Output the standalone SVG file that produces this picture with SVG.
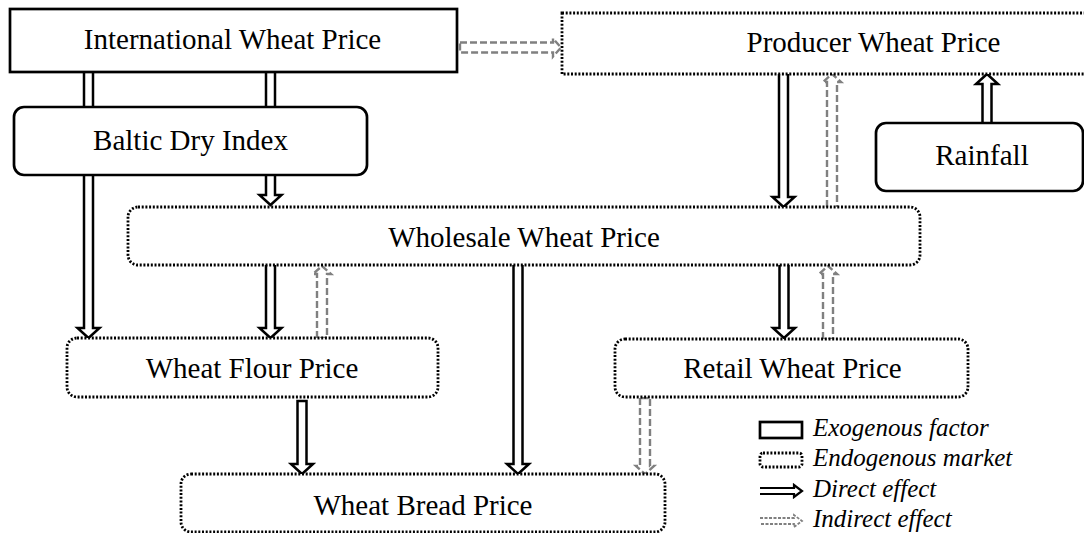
<svg xmlns="http://www.w3.org/2000/svg" width="1084" height="533" viewBox="0 0 1084 533">
<defs>
<style>
.t{font-family:"Liberation Serif","Times New Roman","DejaVu Serif",serif;font-size:29px;fill:#000;text-anchor:middle}
.lg{font-family:"Liberation Serif","Times New Roman","DejaVu Serif",serif;font-size:25px;font-style:italic;fill:#000}
.exo{fill:#fff;stroke:#000;stroke-width:2.7}
.endo{fill:#fff;stroke:#000;stroke-width:2.8;stroke-dasharray:2 1.7}
.dir{fill:#fff;stroke:#000;stroke-width:2.5;stroke-linejoin:miter}
.ind{fill:none;stroke:#808080;stroke-width:2.4;stroke-dasharray:7 3}
</style>
</defs>
<rect width="1084" height="533" fill="#fff"/>
<g id="connectors">
<path class="dir" d="M84,72 V328 H77.5 L88.5,338 L99.5,328 H93 V72"/>
<path class="dir" d="M266,72 V195 H259.5 L270.5,205 L281.5,195 H275 V72"/>
<path class="dir" d="M779,74 V197 H772.5 L783.5,207 L794.5,197 H788 V74"/>
<path class="dir" d="M982.5,123 V84 H976 L987,74 L998,84 H991.5 V123"/>
<path class="dir" d="M266,265 V328 H259.5 L270.5,338 L281.5,328 H275 V265"/>
<path class="dir" d="M513.5,265 V464 H507 L518,474 L529,464 H522.5 V265"/>
<path class="dir" d="M779.5,265 V328 H773 L784,338 L795,328 H788.5 V265"/>
<path class="dir" d="M297.5,401 V464 H291 L302,474 L313,464 H306.5 V401 Z"/>
<path class="ind" d="M460,42.5 H553 V38.5 L561,47.5 L553,56.5 V52.5 H460 Z"/>
<path class="ind" d="M827,207 V82 H823 L832,74 L841,82 H837 V207"/>
<path class="ind" d="M317,338 V274 H313 L322,266 L331,274 H327 V338 Z"/>
<path class="ind" d="M823,339 V274 H819 L828,266 L837,274 H833 V339 Z"/>
<path class="ind" d="M640,398 V466 H636 L645,474 L654,466 H650 V398 Z"/>
</g>
<g id="international">
<rect class="exo" x="10" y="9" width="447" height="63"/>
<text class="t" x="232.5" y="49">International Wheat Price</text>
</g>
<g id="producer">
<rect class="endo" x="562" y="13" width="530" height="61"/>
<text class="t" x="873.5" y="52">Producer Wheat Price</text>
</g>
<g id="baltic">
<rect class="exo" x="14" y="107" width="353" height="68" rx="10"/>
<text class="t" x="190.5" y="150">Baltic Dry Index</text>
</g>
<g id="rainfall">
<rect class="exo" x="876" y="123" width="207" height="68" rx="10"/>
<text class="t" x="982" y="165">Rainfall</text>
</g>
<g id="wholesale">
<rect class="endo" x="128" y="207" width="792" height="58" rx="10"/>
<text class="t" x="524" y="247">Wholesale Wheat Price</text>
</g>
<g id="flour">
<rect class="endo" x="67" y="338" width="371" height="59" rx="10"/>
<text class="t" x="252" y="378">Wheat Flour Price</text>
</g>
<g id="retail">
<rect class="endo" x="615" y="339" width="353" height="58" rx="10"/>
<text class="t" x="792.5" y="378">Retail Wheat Price</text>
</g>
<g id="bread">
<rect class="endo" x="181" y="474" width="484" height="58" rx="10"/>
<text class="t" x="423" y="515">Wheat Bread Price</text>
</g>
<g id="legend">
<rect class="exo" x="760" y="422" width="42" height="16" stroke-width="2.5"/>
<text class="lg" x="813" y="436">Exogenous factor</text>
<rect class="endo" x="760" y="453" width="42" height="14" rx="3" stroke-width="2.3"/>
<text class="lg" x="813" y="466">Endogenous market</text>
<path d="M760,488 H794 V485 L802,491 L794,497 V494 H760" fill="#fff" stroke="#000" stroke-width="2.2"/>
<text class="lg" x="813" y="497">Direct effect</text>
<path d="M760,518 H794 V515 L802,521 L794,527 V524 H760" fill="none" stroke="#808080" stroke-width="1.8" stroke-dasharray="3 1.5"/>
<text class="lg" x="813" y="527">Indirect effect</text>
</g>
</svg>
